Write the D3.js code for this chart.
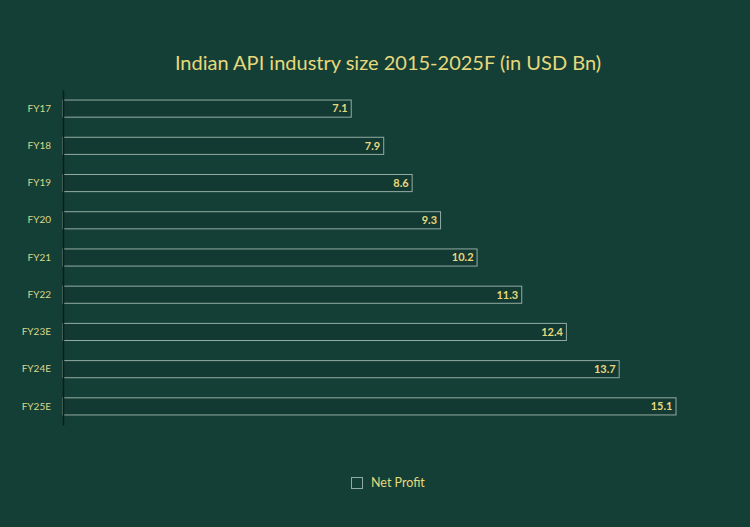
<!DOCTYPE html>
<html><head><meta charset="utf-8">
<script src="https://cdn.jsdelivr.net/npm/d3@7"></script>
<style>html,body{margin:0;padding:0;background:#143f36;}svg{display:block;}</style>
</head><body>
<script>
const categories = ["FY17","FY18","FY19","FY20","FY21","FY22","FY23E","FY24E","FY25E"];
const values = [7.1,7.9,8.6,9.3,10.2,11.3,12.4,13.7,15.1];
const seriesName = "Net Profit";
const title = "Indian API industry size 2015-2025F (in USD Bn)";

const W=750,H=527;
const svg=d3.select("body").append("svg").attr("width",W).attr("height",H);
svg.append("rect").attr("width",W).attr("height",H).attr("fill","#143f36");
const font="Lato, 'Open Sans', sans-serif";
const yellow="#e6d87c";

svg.append("text").attr("x",388).attr("y",70).attr("text-anchor","middle")
  .attr("font-family",font).attr("font-size",20).attr("fill",yellow).text(title);

const x=d3.scaleLinear().domain([0,15.1]).range([63,676]);
const y=d3.scaleBand().domain(categories).range([90,425]).paddingInner(0.54).paddingOuter(0.27);

const g=svg.append("g");
g.selectAll("rect.bar").data(values).join("rect").attr("class","bar")
  .attr("x",x(0)).attr("y",(d,i)=>y(categories[i]))
  .attr("width",d=>x(d)-x(0)).attr("height",y.bandwidth())
  .attr("fill","#133a32").attr("stroke","#93aca3").attr("stroke-width",1);

g.selectAll("text.val").data(values).join("text").attr("class","val")
  .attr("x",d=>x(d)-3.5).attr("y",(d,i)=>y(categories[i])+y.bandwidth()/2)
  .attr("dy","0.35em").attr("text-anchor","end")
  .attr("font-family",font).attr("font-weight","bold").attr("font-size",11).attr("fill",yellow)
  .text(d=>d.toFixed(1));

const ax=svg.append("g").attr("transform","translate(63,0)").call(d3.axisLeft(y).tickSize(0).tickPadding(12));
ax.select(".domain").attr("stroke","#0b1d19").attr("stroke-width",1.5);
ax.selectAll("text").attr("font-family",font).attr("font-size",10).attr("fill","#d9d58a");

const lg=svg.append("g");
lg.append("rect").attr("x",351.5).attr("y",477.5).attr("width",11).attr("height",11)
  .attr("fill","none").attr("stroke","#93aca3");
lg.append("text").attr("x",371).attr("y",483).attr("dy","0.35em")
  .attr("font-family",font).attr("font-size",12.5).attr("fill",yellow).text(seriesName);
</script>
</body></html>
